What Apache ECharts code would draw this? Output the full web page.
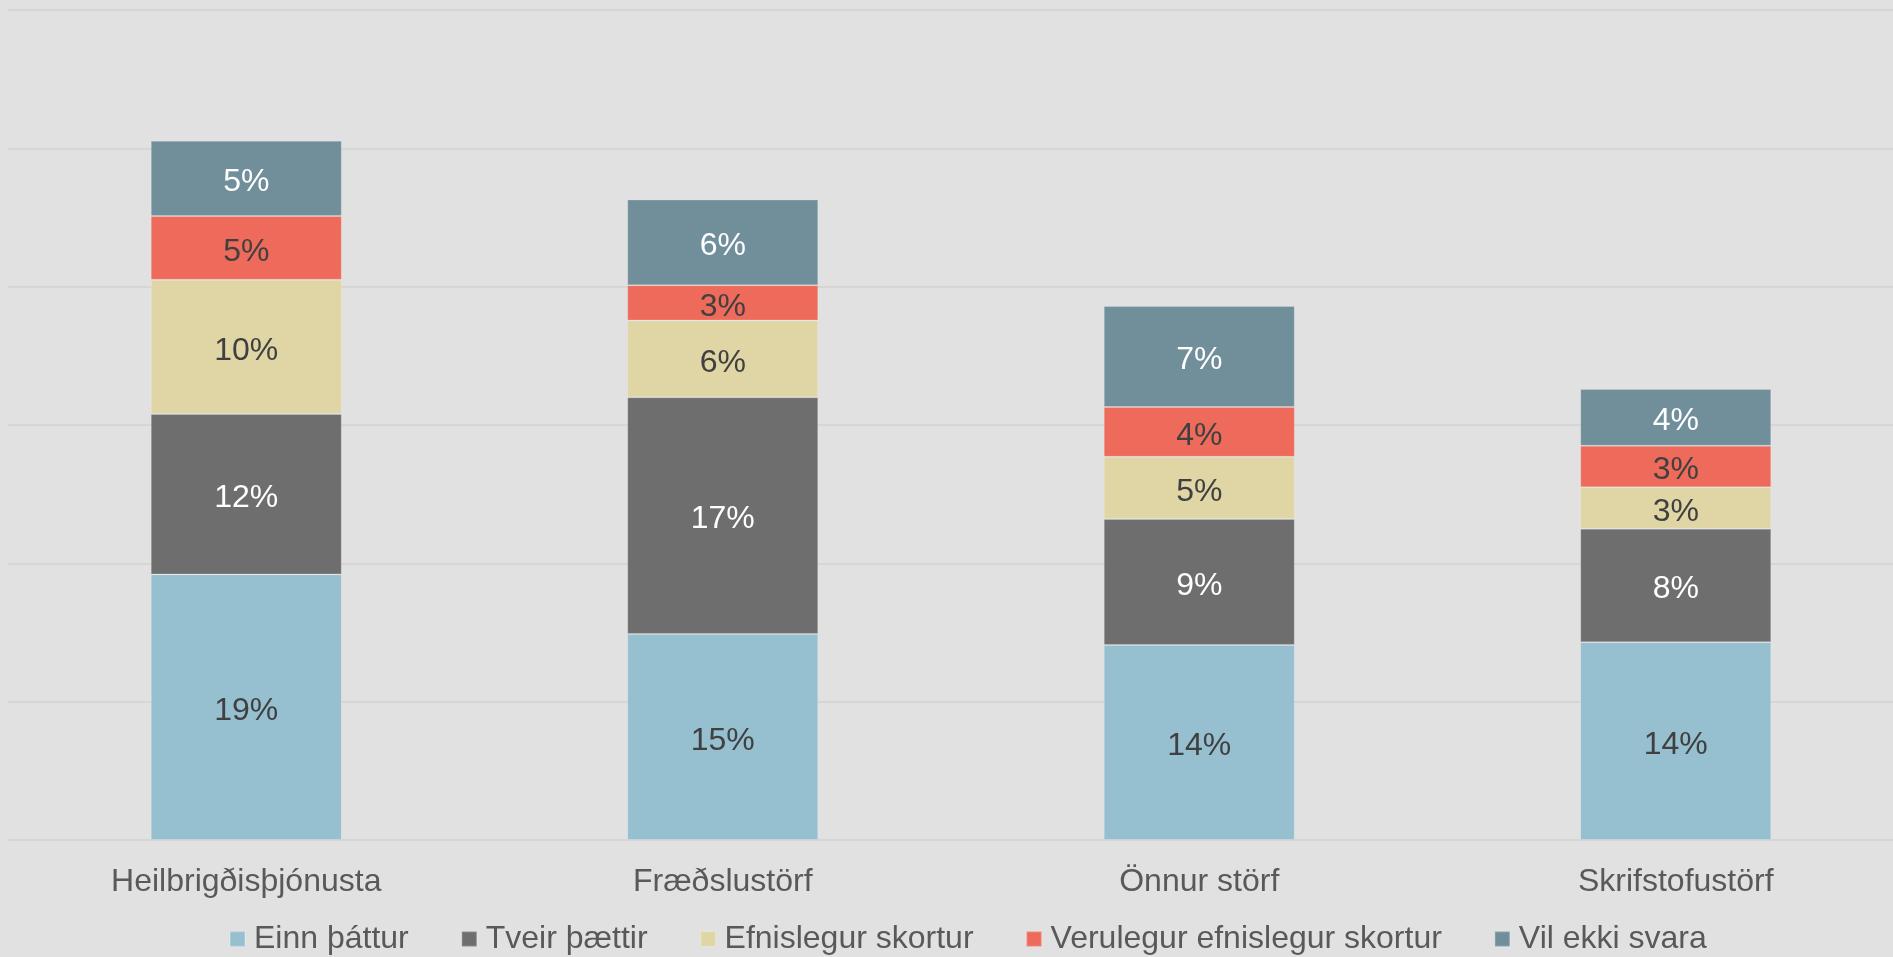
<!DOCTYPE html>
<html>
<head>
<meta charset="utf-8">
<title>Stacked bars</title>
<script src="https://cdn.jsdelivr.net/npm/echarts@6/dist/echarts.min.js"></script>
<style>
  html, body { margin: 0; padding: 0; background: #e1e1e1; }
  #chart { width: 1893px; height: 957px; }
</style>
</head>
<body>
<div id="chart"></div>
<script>
// flokkar og gildi (%), lesin af myndinni
const categories = ['Heilbrigðisþjónusta', 'Fræðslustörf', 'Önnur störf', 'Skrifstofustörf'];
const seriesNames = ['Einn þáttur', 'Tveir þættir', 'Efnislegur skortur', 'Verulegur efnislegur skortur', 'Vil ekki svara'];
const einnThattur = [19.2, 14.9, 14.1, 14.3];
const tveirThaettir = [11.6, 17.1, 9.1, 8.2];
const efnislegur = [9.7, 5.55, 4.5, 3.0];
const verulegur = [4.6, 2.55, 3.6, 3.0];
const vilEkki = [5.45, 6.2, 7.3, 4.1];
const yTicks = [0, 10, 20, 30, 40, 50, 60];

const colors = ['#96bfd0', '#6e6e6e', '#dfd5a5', '#ee6a5a', '#718f9a'];
const labelColors = ['#404040', '#ffffff', '#404040', '#404040', '#ffffff'];
const values = [einnThattur, tveirThaettir, efnislegur, verulegur, vilEkki];

const font = '"Liberation Sans", Arial, sans-serif';

const chart = echarts.init(document.getElementById('chart'));

chart.setOption({
  backgroundColor: '#e1e1e1',
  animation: false,
  textStyle: { fontFamily: font },
  // plottið nær út fyrir hægri brún eins og í frumritinu
  grid: { left: 8, top: 10, width: 1906, height: 830, outerBoundsMode: 'none' },
  legend: {
    left: 229,
    top: 923,
    padding: 0,
    icon: 'rect',
    itemWidth: 15,
    itemHeight: 15,
    itemGap: 52,
    textStyle: { fontSize: 32, color: '#595959', fontFamily: font, padding: [0, 0, 0, 4] },
    data: seriesNames
  },
  xAxis: {
    type: 'category',
    data: categories,
    axisTick: { show: false },
    axisLine: { show: true, lineStyle: { color: '#d6d6d6', width: 2 } },
    axisLabel: { fontSize: 32, color: '#595959', margin: 26, fontFamily: font }
  },
  yAxis: {
    type: 'value',
    min: yTicks[0],
    max: yTicks[yTicks.length - 1],
    interval: 10,
    axisLabel: { show: false },
    axisLine: { show: false },
    axisTick: { show: false },
    splitLine: { lineStyle: { color: '#d6d6d6', width: 2 } }
  },
  series: seriesNames.map((name, i) => ({
    name: name,
    type: 'bar',
    stack: 'total',
    data: values[i],
    barWidth: 191,
    itemStyle: { color: colors[i], borderColor: 'rgba(255,255,255,0.18)', borderWidth: 1 },
    label: {
      show: true,
      position: 'inside',
      offset: [0, 4],
      fontSize: 32,
      fontFamily: font,
      color: labelColors[i],
      formatter: p => Math.round(p.value) + '%'
    }
  }))
});
</script>
</body>
</html>
